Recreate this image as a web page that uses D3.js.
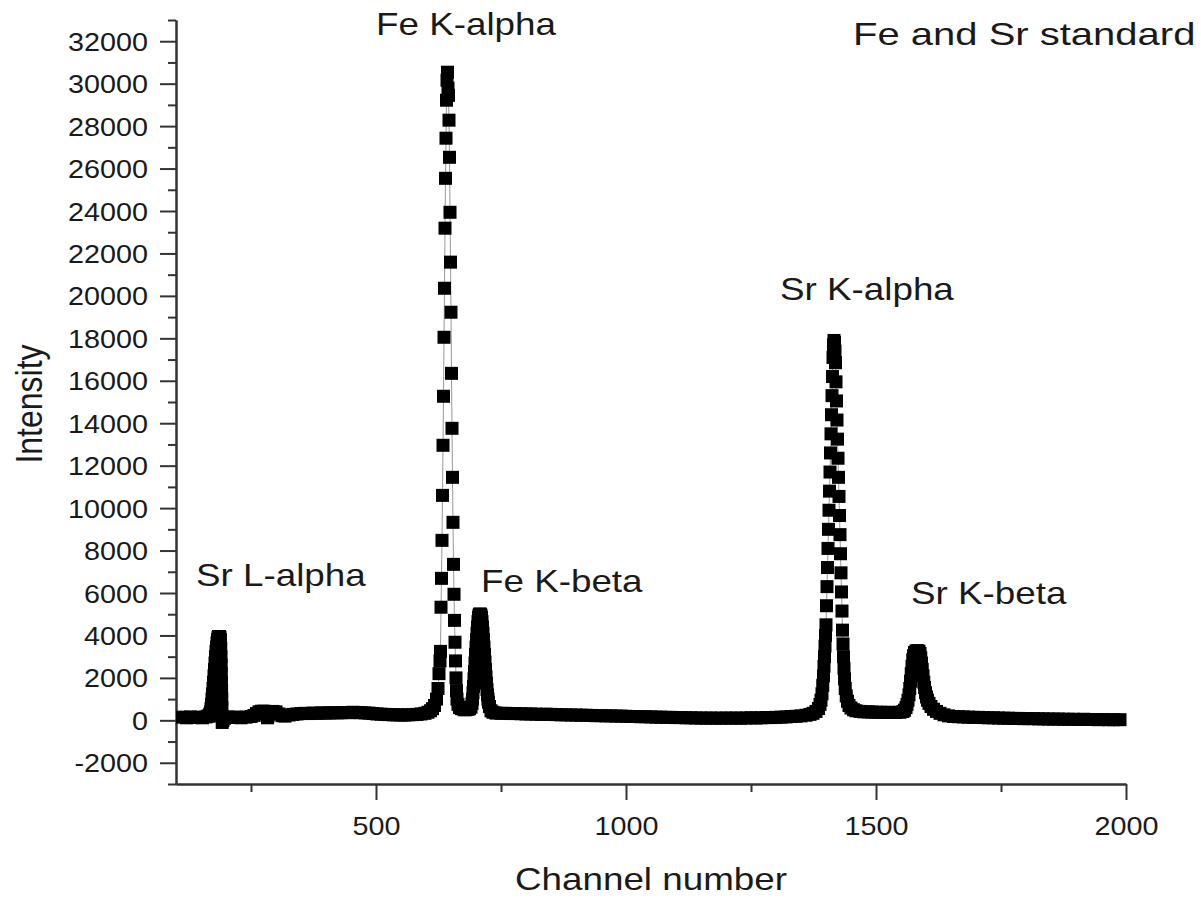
<!DOCTYPE html>
<html>
<head>
<meta charset="utf-8">
<script src="https://cdn.jsdelivr.net/npm/d3@7"></script>
<style>
body { margin: 0; background: #fff; }
svg { display: block; font-family: "Liberation Sans", Arial, sans-serif; }
</style>
</head>
<body>
<svg width="1201" height="903"></svg>
<script>
// [channel, intensity], region by region
var startBaseline = [[113,150],[121,120],[129,160],[137,130],[145,150],[153,120],[160,160],[164,200]];

var srLAlpha = [[166,200],[167,250],[168,300],[169,400],[170,550],[171,750],[172,1000],[173,1250],
  [174,1500],[175,1800],[176,2100],[177,2400],[178,2700],[179,3000],[180,3250],[181,3450],[182,3650],
  [183,3800],[184,3900],[185,3950],[186,3950],[187,3950],[188,3900],[189,3800],[189.5,3400],
  [190,3000],[190.3,2600],[190.6,2200],[190.9,1800],[191.2,1400],[191.5,1000],[191.8,600],
  [192.1,200],[192.4,-100],[194,0],[197,100],[201,150],[206,150]];

var smallBump = [[214,140],[222,150],[230,120],[240,150],[250,180],[256,230],[261,320],[266,400],
  [271,430],[276,430],[280,380],[282,250],[283,120],[284,200],[286,300],[289,380],[294,420],[300,400],
  [306,300],[312,220],[318,200],[326,250]];

var lowBaseline = [[334,280],[342,300],[350,320],[358,330],[366,320],[374,340],[382,330],[390,350],[398,340],
  [406,350],[414,360],[422,350],[430,360],[438,370],[446,360],[454,380],[462,370],[470,360],[478,350],
  [486,340],[494,320],[502,300],[510,290],[518,280],[526,270],[534,260],[542,260],[550,250],[558,250],
  [566,260],[574,270],[582,280],[590,300],[598,330],[604,380],[609,450],[613,550]];

var feKAlpha = [[617,700],[621,1000],[624,1500],[626,2200],[628,2800],[629,3250],[630,5330],[631,6690],
  [632,8480],[633,10600],[634,12960],[635,15270],[636,18050],[637,20360],[638,23190],[639,25540],
  [640,27430],[641,29220],[642,30160],[643,30540],[644,29790],[645,29450],[646,28280],[647,26530],
  [648,23940],[649,21590],[650,19230],[651,16350],[652,13760],[653,11450],[654,9330],[655,7350],
  [656,5940],[657,4710],[658,3680],[659,2800],[660,2000],[661,1400],[662,1000],[664,750],[667,600],
  [671,550],[676,500],[680,500]];

var feKBeta = [[684,520],[687,550],[690,620],[692,800],[693,1000],[694,1300],[695,1600],[696,1950],
  [697,2300],[698,2700],[699,3100],[700,3450],[701,3800],[702,4100],[703,4400],[704,4650],[705,4850],
  [706,4950],[707,5000],[708,5000],[709,5000],[710,4950],[711,4850],[712,4650],[713,4400],[714,4100],
  [715,3800],[716,3450],[717,3100],[718,2750],[719,2400],[720,2050],[721,1750],[722,1450],[723,1200],
  [724,1000],[725,850],[727,650],[730,450],[734,380]];

var midBaseline = [[740,340],[750,330],[760,330],[770,320],[780,320],[790,310],[800,300],[810,300],
  [820,290],[830,280],[840,290],[850,280],[860,270],[870,260],[880,260],[890,250],[900,250],[910,240],
  [920,240],[930,230],[940,220],[950,220],[960,210],[970,210],[980,200],[990,200],[1000,190],[1010,180],
  [1020,180],[1030,170],[1040,170],[1050,160],[1060,150],[1070,150],[1080,140],[1090,140],[1100,130],
  [1110,130],[1120,120],[1130,120],[1140,110],[1150,110],[1160,100],[1170,110],[1180,100],[1190,100],
  [1200,110],[1210,100],[1220,110],[1230,100],[1240,110],[1250,120],[1260,110],[1270,120],[1280,130],
  [1290,130],[1300,140],[1310,150],[1320,160],[1330,180],[1340,190],[1350,210],[1360,240],[1368,280],
  [1374,330]];

var srKAlpha = [[1380,420],[1385,560],[1388,750],[1390,950],[1392,1250],[1393.5,1650],[1395,2100],
  [1396,2550],[1397,3000],[1398,3500],[1399,4000],[1400,4500],[1401,5400],[1402,6300],[1403,7200],
  [1404,8100],[1405,9000],[1406,9900],[1407,10800],[1408,11700],[1409,12600],[1410,13500],
  [1411,14400],[1412,15300],[1413,16200],[1414,17100],[1415,17700],[1416,17900],[1417,17800],
  [1418,17400],[1419,16850],[1420,15950],[1421,15050],[1422,14150],[1423,13250],[1424,12350],
  [1425,11450],[1426,10550],[1427,9650],[1428,8750],[1429,7850],[1430,6950],[1431,6050],[1432,5150],
  [1433,4250],[1434,3600],[1435,3000],[1436,2450],[1437,1950],[1438.5,1500],[1440.5,1150],[1443,900],
  [1446,700],[1450,580],[1455,500],[1460,450]];

var highBaseline = [[1468,420],[1476,400],[1484,400],[1492,390],[1500,380],[1508,380],[1516,370],
  [1524,380],[1532,370],[1540,370],[1548,380]];

var srKBeta = [[1554,420],[1557,480],[1560,600],[1562,750],[1564,950],[1566,1200],[1567.5,1500],
  [1569,1850],[1570.5,2200],[1572,2550],[1573.5,2850],[1575,3050],[1577,3200],[1580,3270],[1583,3280],
  [1586,3260],[1588,3150],[1589.5,2950],[1591,2700],[1592.5,2400],[1594,2100],[1595.5,1800],
  [1597,1550],[1599,1300],[1601,1100],[1603,950],[1606,800],[1610,650],[1615,520],[1621,420],
  [1628,330],[1636,260],[1645,210]];

var endBaseline = [[1655,180],[1665,170],[1675,160],[1685,150],[1695,140],[1705,140],[1715,130],
  [1725,120],[1735,120],[1745,110],[1755,100],[1765,100],[1775,90],[1785,90],[1795,80],[1805,80],
  [1815,80],[1825,70],[1835,70],[1845,60],[1855,60],[1865,60],[1875,50],[1885,50],[1895,50],
  [1905,40],[1915,50],[1925,40],[1935,40],[1945,30],[1955,40],[1965,30],[1975,30],[1988,30]];

var xMajorTicks = [500, 1000, 1500, 2000];
var xMinorTicks = [250, 750, 1250, 1750];
var yMajorTicks = [-2000, 0, 2000, 4000, 6000, 8000, 10000, 12000, 14000, 16000, 18000, 20000,
  22000, 24000, 26000, 28000, 30000, 32000];
var yMinorTicks = [-3000, -1000, 1000, 3000, 5000, 7000, 9000, 11000, 13000, 15000, 17000, 19000,
  21000, 23000, 25000, 27000, 29000, 31000, 33000];

// annotation anchors in data units (channel, intensity)
var peakLabels = [
  {text: 'Fe K-alpha', channel: 500, intensity: 32290},
  {text: 'Fe and Sr standard', channel: 1454, intensity: 31820},
  {text: 'Sr K-alpha', channel: 1308, intensity: 19800},
  {text: 'Sr L-alpha', channel: 140, intensity: 6330},
  {text: 'Fe K-beta', channel: 710, intensity: 6050},
  {text: 'Sr K-beta', channel: 1570, intensity: 5480}
];

var spectrum = [].concat(startBaseline, srLAlpha, smallBump, lowBaseline, feKAlpha, feKBeta,
  midBaseline, srKAlpha, highBaseline, srKBeta, endBaseline);

var stretch = 1.15;
var axisColor = '#333';
var textColor = '#1a1a1a';

var svg = d3.select('svg');

var xScale = d3.scaleLinear()
  .domain([100, 2000])
  .range([176, 1126]);

var yScale = d3.scaleLinear()
  .domain([-3000, 33000])
  .range([784, 20]);

// minor ticks first, then major axes with labels
svg.append('g')
  .attr('transform', 'translate(0,784)')
  .call(d3.axisBottom(xScale).tickValues(xMinorTicks).tickSize(8).tickSizeOuter(0).tickFormat(''))
  .call(styleAxis);

svg.append('g')
  .attr('transform', 'translate(176,0)')
  .call(d3.axisLeft(yScale).tickValues(yMinorTicks).tickSize(8).tickSizeOuter(0).tickFormat(''))
  .call(styleAxis);

var xAxis = svg.append('g')
  .attr('transform', 'translate(0,784)')
  .call(d3.axisBottom(xScale).tickValues(xMajorTicks).tickSize(16).tickSizeOuter(0)
    .tickFormat(d => String(d)))
  .call(styleAxis);

xAxis.selectAll('text')
  .attr('y', null)
  .attr('dy', null)
  .attr('transform', 'translate(0,51) scale(' + stretch + ',1)');

var yAxis = svg.append('g')
  .attr('transform', 'translate(176,0)')
  .call(d3.axisLeft(yScale).tickValues(yMajorTicks).tickSize(16).tickSizeOuter(0)
    .tickFormat(d => String(d)))
  .call(styleAxis);

yAxis.selectAll('text')
  .attr('x', null)
  .attr('dy', '0.36em')
  .attr('transform', 'translate(-28,0) scale(' + stretch + ',1)');

function styleAxis(g) {
  g.select('.domain').attr('stroke', axisColor).attr('stroke-width', 2);
  g.selectAll('.tick line').attr('stroke', axisColor).attr('stroke-width', 2);
  g.selectAll('.tick text')
    .attr('fill', textColor)
    .style('font-size', '25px')
    .style('font-family', '"Liberation Sans", Arial, sans-serif');
}

// thin connecting line under the square markers
var line = d3.line()
  .x(d => xScale(d[0]))
  .y(d => yScale(d[1]));

svg.append('path')
  .datum(spectrum)
  .attr('d', line)
  .attr('fill', 'none')
  .attr('stroke', '#999')
  .attr('stroke-width', 1);

svg.append('g')
  .selectAll('rect')
  .data(spectrum)
  .enter()
  .append('rect')
  .attr('x', d => xScale(d[0]) - 6.5)
  .attr('y', d => yScale(d[1]) - 6.5)
  .attr('width', 13)
  .attr('height', 13)
  .attr('fill', '#000');

svg.append('g')
  .selectAll('text')
  .data(peakLabels)
  .enter()
  .append('text')
  .attr('transform', d => 'translate(' + xScale(d.channel) + ',' + yScale(d.intensity) + ') scale(' +
    (d.text === 'Fe and Sr standard' ? 1.25 : stretch) + ',1)')
  .attr('fill', textColor)
  .style('font-size', '32px')
  .text(d => d.text);

svg.append('text')
  .attr('transform', 'translate(651,890) scale(' + stretch + ',1)')
  .attr('text-anchor', 'middle')
  .attr('fill', textColor)
  .style('font-size', '32px')
  .text('Channel number');

svg.append('text')
  .attr('transform', 'translate(42,404) scale(' + stretch + ',1) rotate(-90)')
  .attr('text-anchor', 'middle')
  .attr('fill', textColor)
  .style('font-size', '32px')
  .text('Intensity');
</script>
</body>
</html>
